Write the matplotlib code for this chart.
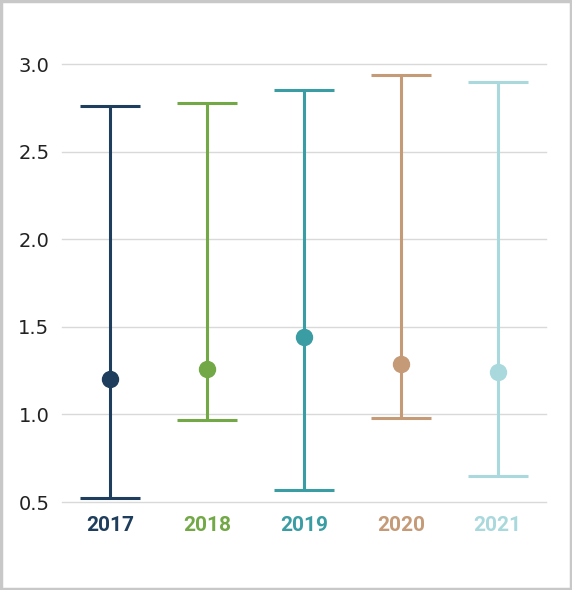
import matplotlib.pyplot as plt
from matplotlib.patches import Rectangle

# data
years = ['2017', '2018', '2019', '2020', '2021']
mid = [1.20, 1.26, 1.44, 1.29, 1.24]
low = [0.52, 0.97, 0.57, 0.98, 0.65]
high = [2.76, 2.78, 2.85, 2.94, 2.90]
colors = ['#1f3d5c', '#72a846', '#3a9da3', '#c49a77', '#a9d8dd']

fig = plt.figure(figsize=(5.72, 5.90), dpi=100)
ax = fig.add_axes([62 / 572, 1 - 502 / 590, 484 / 572, 438 / 590])

for i, yr in enumerate(years):
    err = [[mid[i] - low[i]], [high[i] - mid[i]]]
    ax.errorbar([i], [mid[i]], yerr=err, fmt='o', color=colors[i],
                ms=11.5, elinewidth=2.2, capsize=21.5, capthick=2.2, zorder=3)

ax.set_xlim(-0.5, 4.5)
ax.set_ylim(0.5, 3.0)
ax.set_yticks([0.5, 1.0, 1.5, 2.0, 2.5, 3.0])
ax.set_yticklabels(['0.5', '1.0', '1.5', '2.0', '2.5', '3.0'])
ax.set_xticks(range(len(years)))
ax.set_xticklabels(years, fontweight='bold', fontsize=15, family='Roboto')
for lbl, c in zip(ax.get_xticklabels(), colors):
    lbl.set_color(c)
ax.tick_params(axis='y', length=0, pad=9, labelsize=14, labelcolor='#222222')
ax.tick_params(axis='x', length=0, pad=10)
ax.grid(axis='y', color='#d9d9d9', lw=1)
for gl in ax.get_ygridlines():
    gl.set_clip_on(False)
ax.set_axisbelow(True)
for s in ax.spines.values():
    s.set_visible(False)

# grey frame round the whole picture
fig.patches.append(Rectangle((0.002, 0.002), 0.996, 0.996, transform=fig.transFigure,
                             fill=False, edgecolor='#c8c8c8', lw=2.5))

fig.savefig('out.png', dpi=100)
